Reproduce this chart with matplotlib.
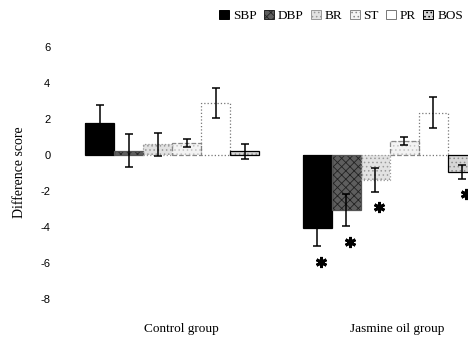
import matplotlib
matplotlib.use("Agg")
import matplotlib.pyplot as plt
import numpy as np
from matplotlib.patches import Patch

# data
measures = ["SBP", "DBP", "BR", "ST", "PR", "BOS"]
groups = ["Control group", "Jasmine oil group"]
control_mean = [1.8, 0.25, 0.6, 0.65, 2.9, 0.2]
control_err = [1.0, 0.9, 0.63, 0.23, 0.85, 0.4]
jasmine_mean = [-4.07, -3.06, -1.39, 0.78, 2.35, -0.93]
jasmine_err = [1.0, 0.9, 0.65, 0.22, 0.87, 0.4]
jasmine_sig = [True, True, True, False, False, True]
yticks = [6, 4, 2, 0, -2, -4, -6, -8]

# fill / hatch / outline per measure
face = ["black", "#5e5e5e", "#e2e2e2", "#f3f3f3", "white", "#d6d6d6"]
hatch = [None, "xxxx", "....", "....", None, "...."]
hatch_col = ["black", "#222222", "#9a9a9a", "#c4c4c4", "white", "#8e8e8e"]
outline = ["black", "#555555", "#999999", "#888888", "#777777", "black"]
outline_ls = ["-", "-", ":", "--", ":", "-"]

plt.rcParams["hatch.linewidth"] = 0.6
serif = ["Liberation Serif", "DejaVu Serif"]

fig = plt.figure(figsize=(4.68, 3.41), dpi=100)
ax = fig.add_axes([58 / 468, 24 / 341, 410 / 468, 288 / 341])

offsets = [0.0, 7.5]
for g, (means, errs) in enumerate([(control_mean, control_err), (jasmine_mean, jasmine_err)]):
    x = np.arange(len(measures)) + offsets[g]
    for i in range(len(measures)):
        ax.bar(x[i], means[i], width=1.0, color=face[i], hatch=hatch[i],
               edgecolor=hatch_col[i], linewidth=0, zorder=2)
        ax.bar(x[i], means[i], width=1.0, fill=False, edgecolor=outline[i],
               linestyle=outline_ls[i], linewidth=0.9, zorder=3)
        ax.errorbar(x[i], means[i], yerr=errs[i], fmt="none", ecolor="black",
                    elinewidth=1.1, capsize=3, capthick=1.1, zorder=4)

# significance asterisks under the jasmine bars
xj = np.arange(len(measures)) + offsets[1]
for i in range(len(measures)):
    if jasmine_sig[i]:
        ax.plot(xj[i] + 0.12, jasmine_mean[i] - jasmine_err[i] - 0.85,
                marker=(6, 2, 0), markersize=8, markeredgewidth=2.1,
                color="black", zorder=5, clip_on=False)

ax.set_xlim(-1.448, 12.69)
ax.set_ylim(-9, 7)
ax.set_yticks(yticks)
ax.set_yticklabels([str(v) for v in yticks], fontsize=8,
                   family=["Liberation Sans", "DejaVu Sans"])
ax.tick_params(axis="y", length=0, pad=5.5)
ax.set_xticks([2.79, 10.26])
ax.set_xticklabels(groups, fontsize=9.5, family=serif)
ax.tick_params(axis="x", length=0, pad=4)
for s in ax.spines.values():
    s.set_visible(False)

fig.text(20 / 468, 1 - 172 / 341, "Difference score", rotation=90,
         ha="center", va="center", fontsize=10, family=serif)

handles = []
for i in range(len(measures)):
    handles.append(Patch(facecolor=face[i], hatch=hatch[i],
                         edgecolor=outline[i] if i != 1 else "#222222",
                         linewidth=0.7, label=measures[i]))
fig.legend(handles=handles, loc="center right", ncol=6, frameon=False,
           bbox_to_anchor=(463 / 468, 1 - 16 / 341),
           prop={"family": serif, "size": 9.5},
           handlelength=0.75, handleheight=0.75, handletextpad=0.3,
           columnspacing=0.55, borderaxespad=0, borderpad=0)

fig.savefig("out.png", dpi=100)
